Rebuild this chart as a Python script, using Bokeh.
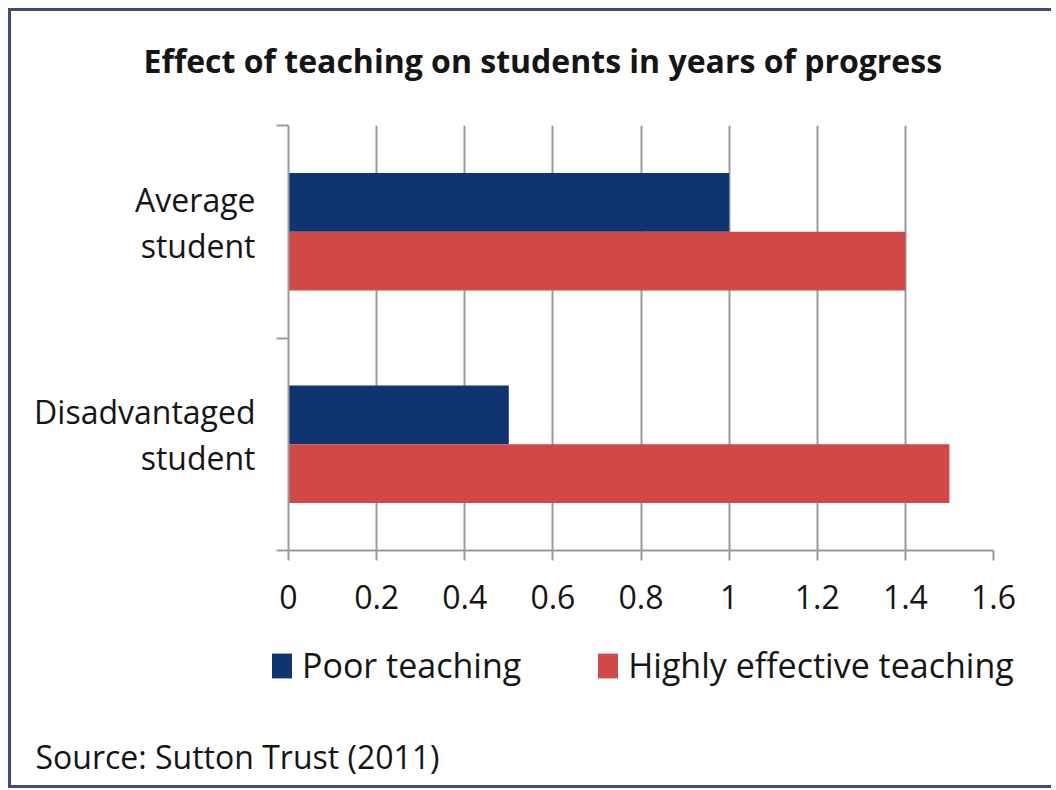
from bokeh.plotting import figure
from bokeh.models import Legend, LegendItem, FixedTicker, ColumnDataSource, Range1d, Label
from bokeh.layouts import column
from bokeh.transform import dodge
from bokeh.embed import file_html
from bokeh.resources import INLINE

# ---- data ----
categories = ["Average student", "Disadvantaged student"]
category_labels = ["Average\nstudent", "Disadvantaged\nstudent"]
series = ["Poor teaching", "Highly effective teaching"]
poor = [1.0, 0.5]
effective = [1.4, 1.5]
x_ticks = [0, 0.2, 0.4, 0.6, 0.8, 1.0, 1.2, 1.4, 1.6]
x_tick_labels = ["0", "0.2", "0.4", "0.6", "0.8", "1", "1.2", "1.4", "1.6"]
source_note = "Source: Sutton Trust (2011)"
title_text = "Effect of teaching on students in years of progress"

FONT = "Open Sans"
BLUE = "#0f3470"
RED = "#d04848"
GREY = "#9a9a9a"
TXT = "#151515"
EDGE = "3px solid #3e4c7c"

W = 1040
H_TITLE = 90
H_MAIN = 529
H_BOT = 155


def strip(height):
    f = figure(width=W, height=height, output_backend="svg", toolbar_location=None,
               x_range=Range1d(0, 1.6), y_range=Range1d(10, 11),
               min_border=0, min_border_left=0, min_border_right=0,
               min_border_top=0, min_border_bottom=0,
               x_axis_location=None, y_axis_location=None)
    f.outline_line_color = None
    f.grid.grid_line_color = None
    f.background_fill_color = "white"
    f.border_fill_color = "white"
    return f


n = len(categories)
ypos = [n - 0.5 - i for i in range(n)]
src = ColumnDataSource(dict(cat=categories, y=ypos, poor=poor, eff=effective))

# ---- title strip ----
t = strip(H_TITLE)
t.add_layout(Label(text=title_text, x=132, y=41, x_units="screen", y_units="screen",
                   text_font=FONT, text_font_size="32px", text_font_style="bold",
                   text_color=TXT, text_baseline="middle", text_align="left"))

# ---- main chart ----
p = figure(width=W, height=H_MAIN, output_backend="svg", toolbar_location=None,
           x_range=Range1d(0, 1.6), y_range=Range1d(0, n),
           min_border_left=277, min_border_right=58, min_border_top=24,
           min_border_bottom=80)
p.outline_line_color = None
p.background_fill_color = "white"
p.border_fill_color = "white"

bh = 0.277
p.hbar(y=dodge("y", bh / 2, range=p.y_range), right="poor", left=0, height=bh,
       source=src, fill_color=BLUE, line_color=None)
p.hbar(y=dodge("y", -bh / 2, range=p.y_range), right="eff", left=0, height=bh,
       source=src, fill_color=RED, line_color=None)

xa = p.xaxis[0]
xa.ticker = FixedTicker(ticks=x_ticks)
xa.major_label_overrides = {t_: l for t_, l in zip(x_ticks, x_tick_labels)}
xa.major_label_text_font = FONT
xa.major_label_text_font_size = "32px"
xa.major_label_text_color = TXT
xa.axis_line_color = GREY
xa.axis_line_width = 2
xa.major_tick_line_color = GREY
xa.major_tick_line_width = 2
xa.major_tick_out = 10
xa.major_tick_in = 0
xa.minor_tick_line_color = None
xa.major_label_standoff = 24

LABEL_SHIFT = 0.045
label_pos = [y + LABEL_SHIFT for y in ypos]
ya = p.yaxis[0]
ya.ticker = FixedTicker(ticks=label_pos, minor_ticks=list(range(n + 1)))
ya.major_label_overrides = {y: l for y, l in zip(label_pos, category_labels)}
ya.major_label_text_font = FONT
ya.major_label_text_font_size = "32px"
ya.major_label_text_color = TXT
ya.major_label_text_align = "right"
ya.major_label_text_line_height = 1.07
ya.axis_line_color = GREY
ya.axis_line_width = 2
ya.major_tick_line_color = None
ya.minor_tick_line_color = GREY
ya.minor_tick_line_width = 2
ya.minor_tick_out = 12
ya.minor_tick_in = 0
ya.major_label_standoff = 21

p.xgrid.ticker = FixedTicker(ticks=x_ticks)
p.xgrid.grid_line_color = GREY
p.xgrid.grid_line_width = 2
p.ygrid.grid_line_color = None

# ---- lower strip: legend + source ----
q = strip(H_BOT)
# legend proxies: same series, drawn outside the visible range of this strip
k1 = q.hbar(y="y", right="poor", left=0, height=bh, source=src, fill_color=BLUE, line_color=None)
k2 = q.hbar(y="y", right="eff", left=0, height=bh, source=src, fill_color=RED, line_color=None)

legend = Legend(items=[LegendItem(label=series[0], renderers=[k1]),
                       LegendItem(label=series[1], renderers=[k2])],
                orientation="horizontal", location=(258, 97),
                label_text_font=FONT, label_text_font_size="34px",
                label_text_color=TXT, glyph_width=25, glyph_height=31,
                label_standoff=8, spacing=74, border_line_color=None,
                background_fill_alpha=0, padding=0, margin=0)
q.add_layout(legend, "center")

q.add_layout(Label(text=source_note, x=24, y=29,
                   x_units="screen", y_units="screen", text_font=FONT,
                   text_font_size="32px", text_color=TXT, text_baseline="middle",
                   text_align="left"))

root = column(column(t, spacing=0), p, column(q, spacing=0), spacing=0)
root.styles = {"margin-left": "8px", "margin-top": "8px", "border-left": EDGE,
               "border-top": EDGE, "border-bottom": EDGE}

open("out.html", "w").write(file_html(root, INLINE))
